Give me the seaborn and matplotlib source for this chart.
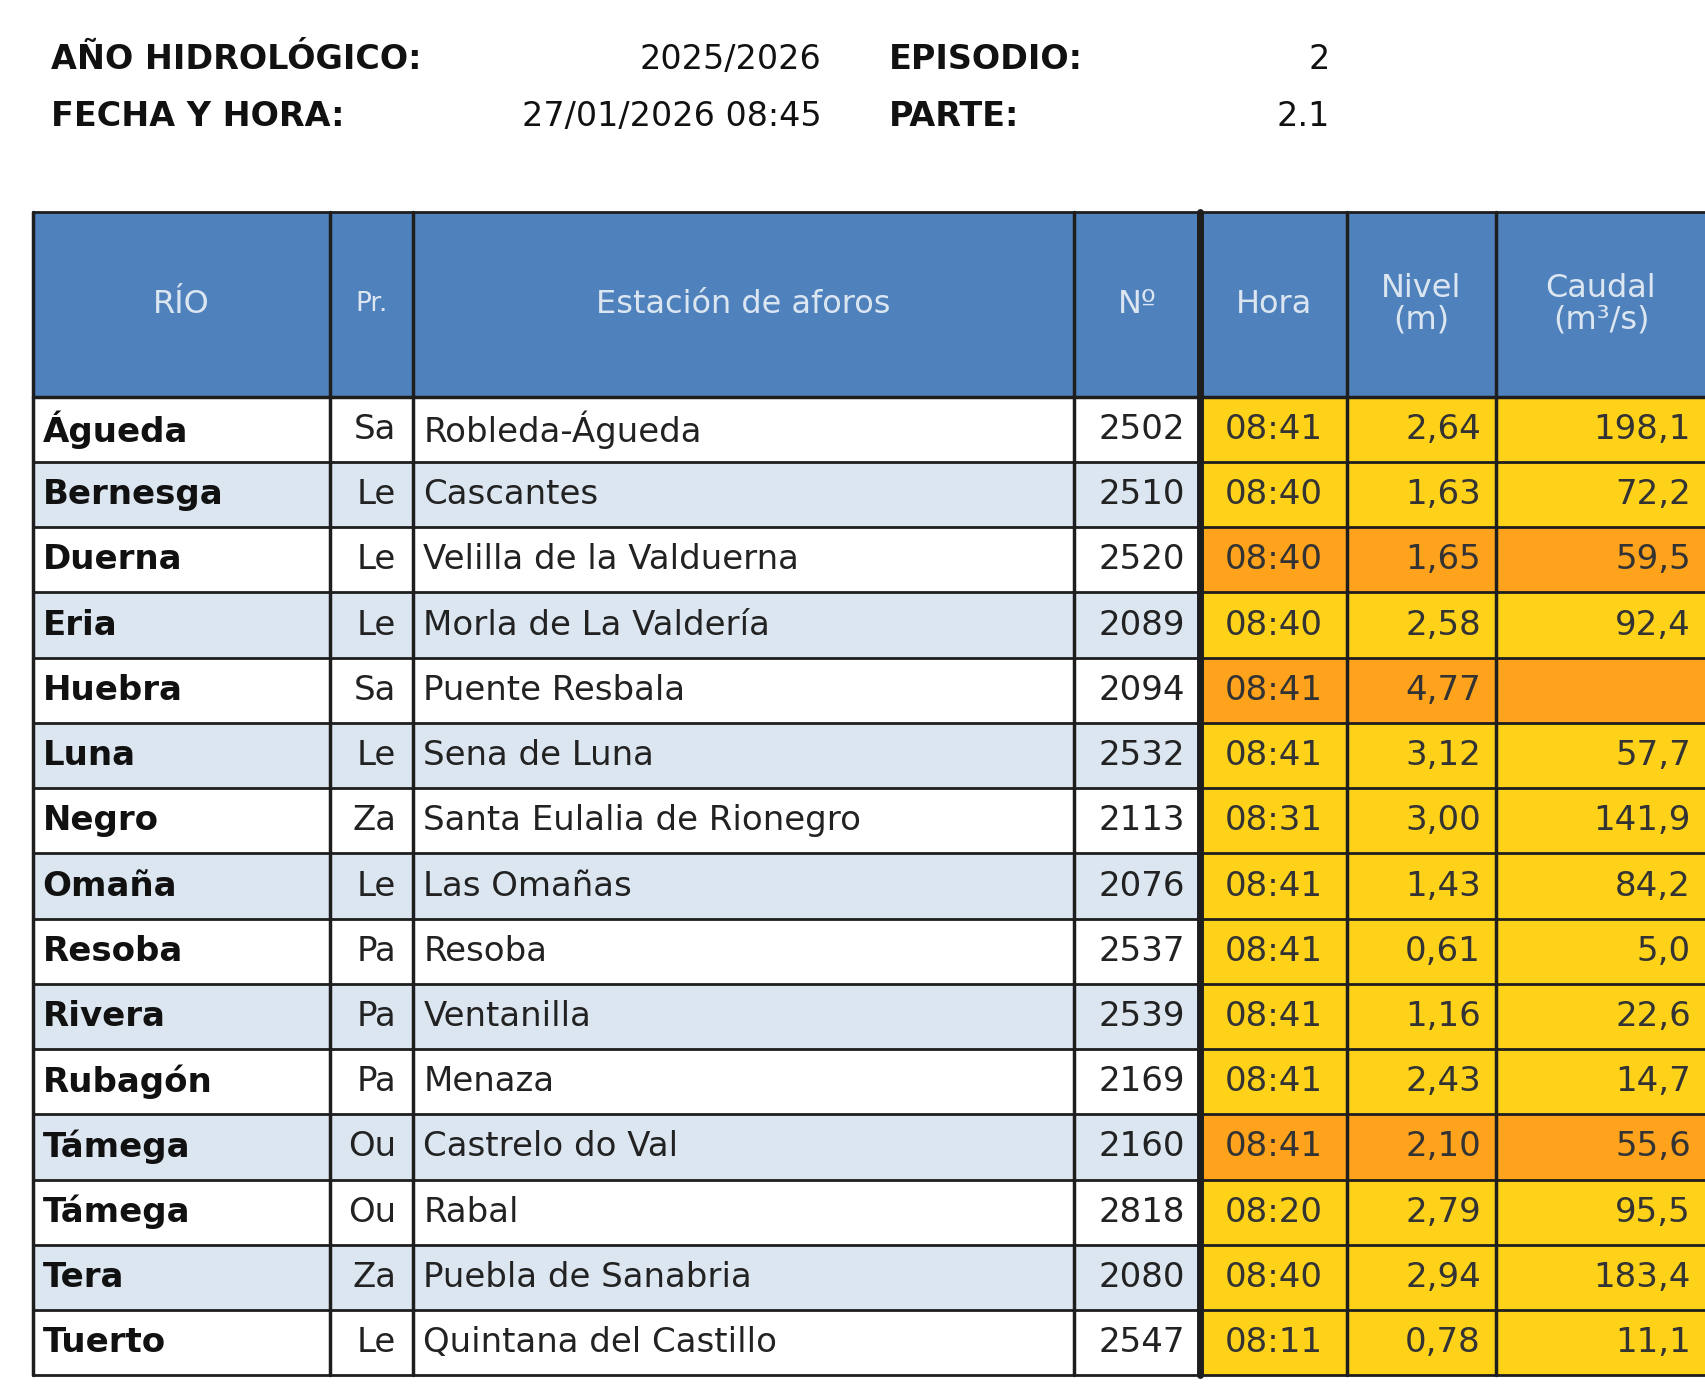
import numpy as np
import seaborn as sns
import matplotlib.pyplot as plt
from matplotlib.patches import Rectangle

sns.set_theme(style='white')
plt.rcParams['font.family'] = ['DejaVu Sans']

rios = ['Águeda', 'Bernesga', 'Duerna', 'Eria', 'Huebra', 'Luna', 'Negro', 'Omaña',
        'Resoba', 'Rivera', 'Rubagón', 'Támega', 'Támega', 'Tera', 'Tuerto']
provincias = ['Sa', 'Le', 'Le', 'Le', 'Sa', 'Le', 'Za', 'Le', 'Pa', 'Pa', 'Pa', 'Ou', 'Ou', 'Za', 'Le']
estaciones = ['Robleda-Águeda', 'Cascantes', 'Velilla de la Valduerna', 'Morla de La Valdería',
              'Puente Resbala', 'Sena de Luna', 'Santa Eulalia de Rionegro', 'Las Omañas',
              'Resoba', 'Ventanilla', 'Menaza', 'Castrelo do Val', 'Rabal',
              'Puebla de Sanabria', 'Quintana del Castillo']
numeros = ['2502', '2510', '2520', '2089', '2094', '2532', '2113', '2076', '2537', '2539',
           '2169', '2160', '2818', '2080', '2547']
horas = ['08:41', '08:40', '08:40', '08:40', '08:41', '08:41', '08:31', '08:41', '08:41',
         '08:41', '08:41', '08:41', '08:20', '08:40', '08:11']
niveles = ['2,64', '1,63', '1,65', '2,58', '4,77', '3,12', '3,00', '1,43', '0,61', '1,16',
           '2,43', '2,10', '2,79', '2,94', '0,78']
caudales = ['198,1', '72,2', '59,5', '92,4', '', '57,7', '141,9', '84,2', '5,0', '22,6',
            '14,7', '55,6', '95,5', '183,4', '11,1']
alerta = ['amarillo', 'amarillo', 'naranja', 'amarillo', 'naranja', 'amarillo', 'amarillo',
          'amarillo', 'amarillo', 'amarillo', 'amarillo', 'naranja', 'amarillo', 'amarillo',
          'amarillo']
cabecera = ['RÍO', 'Pr.', 'Estación de aforos', 'Nº', 'Hora', 'Nivel\n(m)', 'Caudal\n(m³/s)']

W, H = 1568, 1274
col_x = [30, 303, 380, 987, 1103, 1238, 1375, 1568]
head_top, head_bot = 195, 365
row_h = (1265 - head_bot) / len(rios)

col_fill = {'amarillo': '#ffd21a', 'naranja': '#ffa21c'}
blue = '#4f81bd'
alt = '#dce6f1'
line = '#1e1e1e'

fig = plt.figure(figsize=(17.06, 13.85), dpi=100)
ax = fig.add_axes([0, 0, 1, 1])
ax.set_xlim(0, W)
ax.set_ylim(H, 0)
ax.axis('off')

# title block
fs_t = 24
ax.text(47, 55, 'AÑO HIDROLÓGICO:', fontsize=fs_t, fontweight='bold', va='center', color='#111')
ax.text(755, 55, '2025/2026', fontsize=fs_t, ha='right', va='center', color='#111')
ax.text(817, 55, 'EPISODIO:', fontsize=fs_t, fontweight='bold', va='center', color='#111')
ax.text(1222, 55, '2', fontsize=fs_t, ha='right', va='center', color='#111')
ax.text(47, 107, 'FECHA Y HORA:', fontsize=fs_t, fontweight='bold', va='center', color='#111')
ax.text(755, 107, '27/01/2026 08:45', fontsize=fs_t, ha='right', va='center', color='#111')
ax.text(817, 107, 'PARTE:', fontsize=fs_t, fontweight='bold', va='center', color='#111')
ax.text(1222, 107, '2.1', fontsize=fs_t, ha='right', va='center', color='#111')

# header
ax.add_patch(Rectangle((col_x[0], head_top), col_x[-1] - col_x[0], head_bot - head_top,
                       facecolor=blue, edgecolor='none'))
for j, lab in enumerate(cabecera):
    cx = (col_x[j] + col_x[j + 1]) / 2
    ax.text(cx, (head_top + head_bot) / 2, lab, ha='center', va='center',
            fontsize=23 if j != 1 else 19, color='#dce6f1', linespacing=1.05)

# rows
fs = 24.5
for i in range(len(rios)):
    y0 = head_bot + i * row_h
    yc = y0 + row_h / 2
    bg = 'white' if i % 2 == 0 else alt
    ax.add_patch(Rectangle((col_x[0], y0), col_x[4] - col_x[0], row_h, facecolor=bg, edgecolor='none'))
    fc = col_fill[alerta[i]]
    ax.add_patch(Rectangle((col_x[4], y0), col_x[6] - col_x[4], row_h, facecolor=fc, edgecolor='none'))
    fc2 = col_fill['naranja'] if caudales[i] == '' else fc
    ax.add_patch(Rectangle((col_x[6], y0), col_x[7] - col_x[6], row_h, facecolor=fc2, edgecolor='none'))
    ax.text(col_x[0] + 9, yc, rios[i], fontsize=fs, fontweight='bold', va='center', color='#111')
    ax.text(col_x[2] - 16, yc, provincias[i], fontsize=fs, ha='right', va='center', color='#222')
    ax.text(col_x[2] + 9, yc, estaciones[i], fontsize=fs, va='center', color='#222')
    ax.text(col_x[4] - 14, yc, numeros[i], fontsize=fs, ha='right', va='center', color='#222')
    ax.text((col_x[4] + col_x[5]) / 2, yc, horas[i], fontsize=fs, ha='center', va='center', color='#333')
    ax.text(col_x[6] - 14, yc, niveles[i], fontsize=fs, ha='right', va='center', color='#333')
    ax.text(col_x[7] - 14, yc, caudales[i], fontsize=fs, ha='right', va='center', color='#333')

# grid lines
bottom = head_bot + len(rios) * row_h
for k in range(len(rios) + 1):
    y = head_bot + k * row_h
    ax.plot([col_x[0], col_x[-1]], [y, y], color=line, lw=2.5 if k == 0 else 2)
ax.plot([col_x[0], col_x[-1]], [head_top, head_top], color=line, lw=2)
for j, x in enumerate(col_x[:-1]):
    ax.plot([x, x], [head_top, bottom], color=line, lw=5 if j == 4 else 2.5)

fig.savefig('out.png', dpi=100)
